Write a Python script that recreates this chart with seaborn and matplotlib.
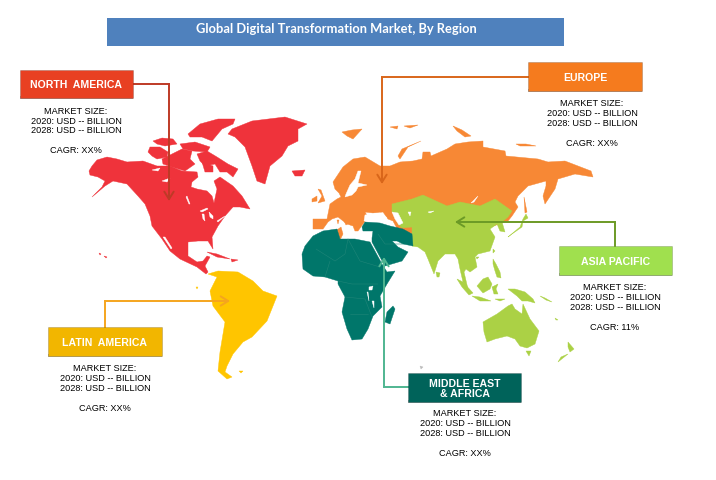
import matplotlib
matplotlib.use("Agg")
import matplotlib.pyplot as plt
from matplotlib.patches import Rectangle
import seaborn as sns

sns.set_theme(style="white")

TITLE = "Global Digital Transformation Market, By Region"
REGIONS = ["NORTH  AMERICA", "EUROPE", "ASIA PACIFIC", "LATIN  AMERICA", "MIDDLE EAST\n& AFRICA"]
CAGR = ["XX%", "XX%", "11%", "XX%", "XX%"]
BOX_COLORS = ["#E84022", "#F57B1E", "#A0E04E", "#F2B600", "#00635A"]
LAND_RED, LAND_ORANGE, LAND_GREEN, LAND_YELLOW, LAND_TEAL = "#EF333B", "#F78835", "#ABD145", "#FFC500", "#00766A"
LINE_COLORS = ["#BE3A26", "#D9661A", "#6C9A26", "#F5A51E", "#4FB591"]

# map outlines
N_AMERICA = [(89,172),(92,167),(97,161),(107,158),(117,160),(127,163),(143,162),(157,167),(170,167),(182,172),(197,173),(198,178),
             (192,183),(191,188),(197,190),(207,192),(212,197),(214,204),(217,190),(214,182),(220,178),(233,187),(242,197),(250,210),
             (240,208),(233,208),(225,217),(218,227),(212,238),(213,250),(208,242),(198,242),(188,243),(188,257),(197,263),(203,262),
             (207,257),(210,258),(205,267),(208,273),(206,275),(197,268),(180,260),(170,252),(162,240),(152,227),(150,217),(145,205),
             (138,197),(127,185),(113,182),(105,187),(92,198),(102,188),(105,182),(98,178),(90,176)]
GREENLAND = [(228,135),(232,130),(252,122),(285,118),(307,125),(298,130),(298,142),(288,147),(282,157),(270,167),(265,185),(257,182),
             (252,167),(245,148),(235,138)]
N_ISLANDS = [
    [(292,172),(305,171),(302,177),(295,177)],
    [(148,153),(150,148),(160,148),(168,153),(167,158),(157,160),(152,157)],
    [(162,160),(168,157),(182,150),(192,152),(190,160),(195,165),(185,172),(172,168),(163,165)],
    [(153,142),(162,139),(173,140),(177,145),(165,147),(157,145)],
    [(180,145),(195,143),(210,148),(207,153),(193,152),(183,150)],
    [(188,135),(200,125),(218,120),(235,120),(233,125),(222,130),(212,142),(202,138),(190,138)],
    [(197,155),(207,152),(217,158),(228,165),(238,170),(233,178),(227,173),(220,173),(215,165),(205,167),(200,162)],
    [(202,163),(213,167),(213,173),(205,173)],
    [(207,253),(217,255),(230,260),(217,258)],
    [(231,260),(238,261),(232,263)],
    [(104,257),(107,258),(106,259)],
    [(99,254),(101,255),(100,256)],
]
N_LAKES = [
    [(200,212),(207,209),(208,210),(202,213)],
    [(202,215),(204,215),(205,222),(203,220)],
    [(209,213),(213,217),(213,220),(210,218)],
    [(217,222),(225,217),(218,223)],
    [(152,171),(160,169),(158,172)],
    [(162,182),(170,179),(167,183)],
    [(186,198),(187,197),(190,205),(189,205)],
    [(163,238),(165,238),(172,249),(171,250)],
]
EURASIA = [(313,220),(327,220),(330,205),(337,200),(341,198),(339,194),(335,190),(333,183),(343,168),(353,160),(365,158),(380,167),
           (390,167),(400,163),(413,162),(422,160),(423,153),(430,153),(431,157),(447,150),(455,145),(468,143),(483,142),(483,148),
           (505,152),(506,157),(538,160),(548,163),(565,162),(591,172),(593,178),(575,175),(558,180),(555,190),(545,205),(543,197),
           (546,187),(546,182),(528,187),(518,197),(515,203),(518,208),(512,217),(508,222),(470,235),(400,235),(393,222),(388,220),
           (383,213),(373,214),(365,213),(368,218),(363,225),(358,232),(355,232),(353,227),(347,225),(338,218),(332,220),(328,223),
           (323,230),(313,230)]
EUR_ISLANDS = [
    [(318,190),(321,191),(325,202),(318,204),(322,197)],
    [(312,200),(317,197),(317,202),(312,203)],
    [(342,133),(352,131),(362,130),(353,140),(347,137)],
    [(398,157),(402,150),(421,142),(408,148),(400,160)],
    [(453,127),(462,131),(471,137),(465,138),(457,132)],
    [(516,145),(526,145),(536,147),(520,147)],
    [(390,128),(398,127),(397,130)],
    [(404,127),(418,126),(410,129)],
    [(524,198),(527,213),(525,214)],
    [(337,231),(341,228),(343,235),(340,241),(338,236)],
    [(344,222),(349,224),(346,226)],
    [(337,221),(339,221),(338,225)],
]
EUR_WATER = [
    [(358,172),(355,180),(350,186),(346,195),(345,198),(352,196),(356,192),(358,188),(367,186),(358,184),(361,172)],
]
BLACK_SEA = [(365,216),(372,215),(380,214),(387,219),(375,222),(364,222)]
CASPIAN = [(392,213),(398,214),(403,224),(399,226),(395,220)]
ASIA = [(392,205),(412,200),(423,196),(447,207),(460,203),(480,207),(495,200),(512,212),(508,218),(502,223),(505,233),(500,232),
        (497,225),(490,230),(495,238),(490,252),(478,255),(475,258),(477,268),(470,273),(466,270),(464,273),(468,290),(463,283),
        (460,270),(458,260),(455,255),(445,255),(438,262),(434,275),(428,260),(425,253),(418,248),(412,247),(412,228),(402,229),(398,225),
        (397,214),(392,213)]
ASIA_LAKES = [[(408,213),(411,213),(410,217)], [(428,213),(434,212),(430,214)], [(471,204),(476,199),(478,197),(474,203)]]
ASIA_ISLANDS = [
    [(436,273),(440,274),(439,278),(437,278)],
    [(457,280),(463,283),(473,294),(469,296),(462,288)],
    [(472,297),(480,298),(491,302),(480,302)],
    [(477,287),(483,280),(488,278),(492,285),(490,290),(483,294)],
    [(492,288),(498,285),(496,290),(498,295),(494,295)],
    [(493,260),(496,265),(500,273),(501,279),(497,278),(495,272),(493,265)],
    [(508,290),(515,290),(525,293),(533,300),(535,304),(528,302),(522,302),(517,297)],
    [(508,238),(520,228),(523,220),(526,215),(528,219),(523,222),(522,228),(512,235)],
    [(493,250),(495,252),(493,254)],
    [(476,258),(479,258),(477,260)],
    [(483,323),(497,315),(508,307),(512,305),(515,310),(522,315),(523,305),(530,320),(539,332),(535,345),(527,349),(520,347),(515,340),
     (507,337),(495,340),(487,343),(484,333)],
    [(526,352),(531,352),(529,357)],
    [(568,343),(574,350),(570,353),(568,348)],
    [(568,355),(558,363),(561,358)],
    [(540,297),(545,299),(552,303),(546,301)],
    [(555,319),(558,321),(556,321)],
    [(495,300),(505,300),(500,302)],
]
AFRICA = [(302,255),(305,247),(313,237),(323,232),(337,230),(340,240),(355,240),(370,243),(382,265),(387,273),(395,272),(387,285),(380,297),
          (382,308),(373,317),(368,330),(362,340),(352,341),(347,330),(342,313),(345,298),(338,285),(338,282),(325,278),(313,277),
          (303,270)]
MIDEAST = [(362,228),(365,223),(380,224),(390,227),(403,230),(412,235),(413,247),(403,245),(397,242),(392,242),(398,248),(408,253),
           (402,262),(385,267),(380,258),(372,243),(372,239),(373,232),(363,232)]
MADAGASCAR = [(393,307),(395,310),(390,325),(385,323),(387,313)]
AFR_LAKES = [[(369,288),(373,287),(372,291),(369,291)], [(372,302),(374,302),(374,309)], [(367,293),(368,293),(369,302)]]
AFR_BORDERS = [[(316,250),(335,262),(345,255),(348,240)], [(348,240),(360,262),(380,268)], [(338,282),(352,285),(378,285)],
               [(345,298),(365,300),(372,318)], [(350,315),(368,315)], [(330,262),(325,278)], [(378,235),(385,245),(403,245)]]
S_AMERICA = [(208,275),(218,272),(238,273),(253,282),(263,292),(277,297),(273,307),(267,322),(252,338),(243,343),(233,355),(227,367),
             (225,373),(232,378),(227,380),(218,372),(220,353),(225,323),(213,307),(210,292),(217,278)]
SA_ISLANDS = [[(239,372),(243,372),(241,374)], [(196,288),(198,288),(197,290)]]
KERGUELEN = [(420,367),(423,368),(421,370)]

fig = plt.figure(figsize=(7.16, 4.81), dpi=100)
ax = fig.add_axes([0, 0, 1, 1])
ax.set_xlim(0, 716)
ax.set_ylim(481, 0)
ax.axis("off")
sns.despine(ax=ax, left=True, bottom=True)


def land(shapes, color, z=2):
    for s in shapes:
        ax.fill(*zip(*s), color=color, lw=0.3, zorder=z)


land([EURASIA] + EUR_ISLANDS, LAND_ORANGE, 2)
land(EUR_WATER, "white", 2.1)
land([ASIA] + ASIA_ISLANDS, LAND_GREEN, 3)
land(ASIA_LAKES, "white", 3.1)
land([N_AMERICA, GREENLAND] + N_ISLANDS, LAND_RED, 2)
land(N_LAKES, "white", 2.1)
land([AFRICA, MIDEAST, MADAGASCAR], LAND_TEAL, 4)
land(AFR_LAKES, "white", 4.1)
for b in AFR_BORDERS:
    ax.plot(*zip(*b), color="#1F8578", lw=0.4, zorder=4.2)
land([BLACK_SEA, CASPIAN], "white", 4.5)
land([S_AMERICA] + SA_ISLANDS, LAND_YELLOW, 3)
land([KERGUELEN], "#BBBBBB", 3)

# title bar
ax.add_patch(Rectangle((107, 19), 457, 28, color="#4F81BD", lw=0, zorder=5))
ax.text(336, 29, TITLE, color="white", fontsize=9.25, family="Lato", weight="bold",
        ha="center", va="center", zorder=6)

BOXES = [(19.5, 71, 113, 28), (528, 63, 114, 29), (559, 247, 113, 29), (48, 328, 114, 29), (408, 374, 113, 28.5)]
INFO = [(76, 111), (592, 104), (615, 288), (105, 369), (465, 414)]
ROUTES = [[(133, 85), (169, 85), (169, 202)],
          [(528, 78), (382, 78), (382, 185)],
          [(615, 247), (615, 223), (455, 223)],
          [(105, 328), (105, 302), (230, 302)],
          [(408, 388), (384, 388), (384, 258)]]

for name, cagr, col, lc, (x, y, w, h), (ix, iy), r in zip(REGIONS, CAGR, BOX_COLORS, LINE_COLORS, BOXES, INFO, ROUTES):
    ax.add_patch(Rectangle((x, y + h - 2), w, 3, color="#BBBBBB", lw=0, zorder=6))
    ax.add_patch(Rectangle((x, y), w, h, facecolor=col, edgecolor="#00000030", lw=0.6, zorder=7))
    ax.text(x + w / 2, y + h / 2 + 0.5, name, color="white", fontsize=7.6, family="Liberation Sans", weight="bold",
            ha="center", va="center", linespacing=0.95, zorder=8)
    for k, line in enumerate(["MARKET SIZE:", "2020: USD -- BILLION", "2028: USD -- BILLION", "", f"CAGR: {cagr}"]):
        ax.text(ix, iy + 10 * k, line, color="black", fontsize=6.6, family="Liberation Sans",
                ha="center", va="center", zorder=8)
    ax.plot(*zip(*r[:2]), color=lc, lw=1.4, zorder=5, solid_capstyle="projecting")
    ax.annotate("", xy=r[2], xytext=r[1], zorder=5,
                arrowprops=dict(arrowstyle="->,head_length=0.45,head_width=0.28", color=lc, lw=1.4, shrinkA=0, shrinkB=0))

fig.savefig("out.png", dpi=100, facecolor="white")
